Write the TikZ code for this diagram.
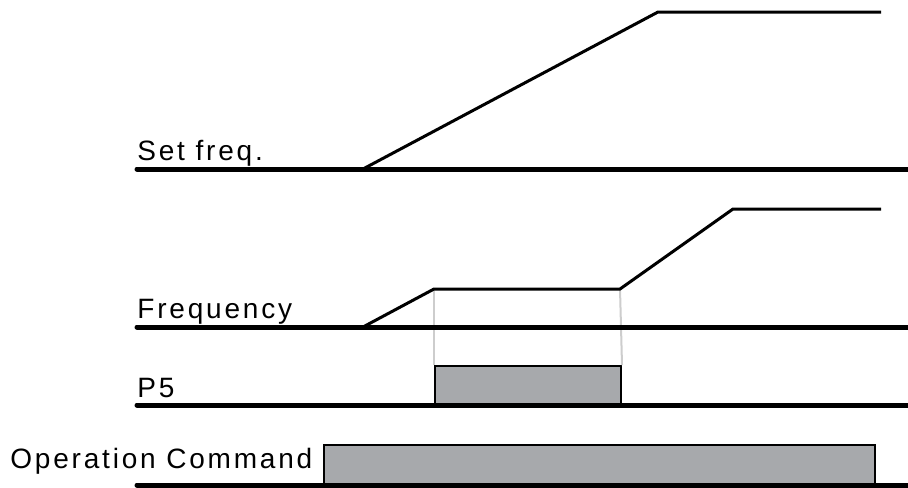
\documentclass[tikz,border=0pt]{standalone}
\usepackage{fontspec}
\newfontfamily\lblfont{Liberation Sans}[LetterSpace=10]
\usetikzlibrary{positioning}
\definecolor{boxgray}{RGB}{167,169,172}
\definecolor{guidegray}{RGB}{205,205,205}

\begin{document}
\begin{tikzpicture}[x=0.5pt, y=-0.5pt,
    axis/.style={line width=2.5pt, line cap=round},
    sig/.style={line width=1.5pt},
    pulse/.style={draw, line width=1pt, fill=boxgray},
    guide/.style={line width=1pt, guidegray},
    lbl/.style={inner sep=0pt, anchor=base west, font=\lblfont\fontsize{14}{16}\selectfont}]
  \useasboundingbox (0,0) rectangle (908,487);
  % corners of the curves
  \coordinate (sf-a) at (363,169);
  \coordinate (sf-b) at (658,12);
  \coordinate (sf-c) at (881,12);
  \coordinate (fq-a) at (363,327);
  \coordinate (fq-b) at (434,289);
  \coordinate (fq-c) at (620,289);
  \coordinate (fq-d) at (733,209);
  \coordinate (fq-e) at (881,209);
  % pulses
  \node[pulse, inner sep=0pt, minimum width=93pt, minimum height=19pt, anchor=south west] (p5box) at (434,405) {};
  \node[pulse, inner sep=0pt, minimum width=275.5pt, minimum height=19.5pt, anchor=south west] (opbox) at (323,485) {};
  \draw[guide] (fq-b) -- (p5box.north west);
  \draw[guide] (fq-c) -- (p5box.north east);
  % time axes
  \draw[axis] (137,169) -- (912,169);
  \draw[axis] (137,327) -- (912,327);
  \draw[axis] (137,405) -- (912,405);
  \draw[axis] (137,485) -- (912,485);
  % curves
  \draw[sig] (sf-a) -- (sf-b) -- (sf-c);
  \draw[sig] (fq-a) -- (fq-b) -- (fq-c) -- (fq-d) -- (fq-e);
  % labels
  \node[lbl] (setfreq) at (137,160) {Set freq.};
  \node[lbl] (freq) at (137,318) {Frequency};
  \node[lbl] (p5) at (137,397) {P5};
  \node[lbl] (opcmd) at (10,468) {Operation Command};
\end{tikzpicture}
\end{document}
